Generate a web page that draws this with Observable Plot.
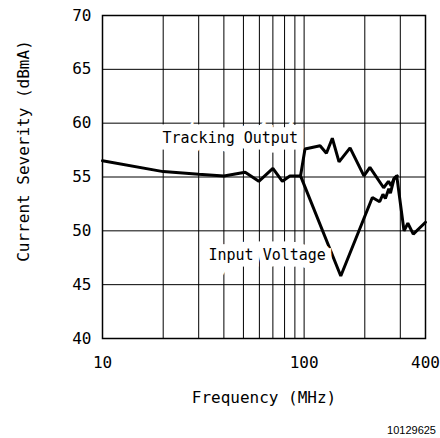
<!DOCTYPE html>
<html><head><meta charset="utf-8">
<script src="https://cdn.jsdelivr.net/npm/d3@7"></script>
<script src="https://cdn.jsdelivr.net/npm/@observablehq/plot@0.6"></script>
<style>
body{margin:0;background:#fff}
#cap{width:436px;height:16px;font:11px "Liberation Sans",Arial,sans-serif;text-align:right;line-height:16px;color:#000}
</style>
</head><body><div id="chart"></div><div id="cap">10129625</div>
<script>
const trackingFreq = [10,20,30,40,51,59.6,70,78,85,96,101,120,129,138,149,169,198,212,248,262,270,280,288,313,327,348,400];
const trackingSev  = [56.5,55.5,55.25,55.1,55.45,54.6,55.8,54.6,55.1,55.1,57.6,57.9,57.2,58.6,56.4,57.7,55.1,55.9,54.0,54.6,54.2,54.9,55.1,50.0,50.7,49.7,50.8];
const inputFreq = [96,152,218,237,246,253,263,268,279,290];
const inputSev  = [55.1,45.8,53.1,52.7,53.4,53.0,53.9,53.5,54.8,55.1];
const xTicks = [10,100,400];
const yTicks = [40,45,50,55,60,65,70];
const xGrid = [20,30,40,50,60,70,80,90,100,200,300];
const yGrid = [45,50,55,60,65];
const labelText = ["Tracking Output","Input Voltage"];
const labelFreq = [43,65.6];
const labelSev = [58.6,47.7];
const xLabel = "Frequency (MHz)";
const yLabel = "Current Severity (dBmA)";

const tracking = trackingFreq.map((f,i)=>({f, v: trackingSev[i]}));
const input = inputFreq.map((f,i)=>({f, v: inputSev[i]}));
const labels = labelText.map((t,i)=>({t, f: labelFreq[i], v: labelSev[i]}));

const plot = Plot.plot({
  width: 440, height: 422,
  marginLeft: 102, marginRight: 15, marginTop: 15, marginBottom: 84,
  style: {fontFamily: "DejaVu Sans Mono", fontSize: "16px", color: "black", background: "white"},
  x: {type: "log", domain: [10, 400]},
  y: {domain: [40, 70]},
  marks: [
    Plot.ruleX(xGrid, {stroke: "black", strokeWidth: 1}),
    Plot.ruleY(yGrid, {stroke: "black", strokeWidth: 1}),
    Plot.line(tracking, {x: "f", y: "v", stroke: "black", strokeWidth: 3, strokeLinejoin: "miter"}),
    Plot.line(input, {x: "f", y: "v", stroke: "black", strokeWidth: 3, strokeLinejoin: "miter"}),
    Plot.text(labels, {x: "f", y: "v", text: "t", fill: "black", stroke: "white", strokeWidth: 13, strokeLinejoin: "miter", paintOrder: "stroke", fontSize: 15}),
    Plot.frame({stroke: "black", strokeWidth: 1.5}),
    Plot.axisX({ticks: xTicks, tickFormat: d => String(d), tickSize: 0, tickPadding: 18, label: null}),
    Plot.axisY({ticks: yTicks, tickSize: 0, tickPadding: 11, label: null}),
    Plot.text([xLabel], {frameAnchor: "bottom", dy: 64, fontSize: 16, fill: "black"}),
    Plot.text([yLabel], {frameAnchor: "left", textAnchor: "middle", dx: -79, dy: -26, rotate: -90, fontSize: 16, fill: "black"})
  ]
});
document.getElementById("chart").append(plot);
</script>
</body></html>
